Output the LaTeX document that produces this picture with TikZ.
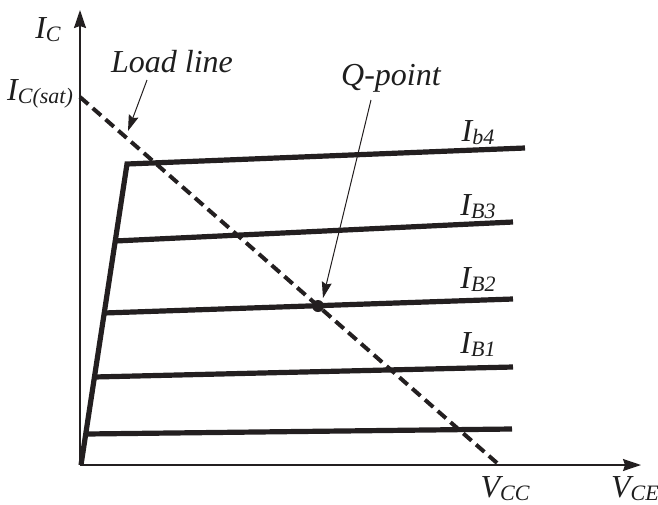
\documentclass[tikz,border=0pt]{standalone}
\usepackage{fontspec}
\setmainfont{Liberation Serif}
\usetikzlibrary{
  arrows.meta,
  calc
}
\definecolor{inkcolor}{RGB}{35, 31, 32}
\definecolor{labelcolor}{RGB}{30, 30, 30}
\newcommand{\curlbl}[2]{#1\raisebox{-0.2ex}{\fontsize{11}{13}\selectfont #2}}
\tikzset{
axisline/.style={
  line width=0.8pt,
  draw=inkcolor,
  -{Stealth[length=9pt,width=6pt,inset=1pt]}
},
curve/.style={
  line width=2.6pt,
  draw=inkcolor,
  line join=miter
},
loadline/.style={
  line width=2pt,
  draw=inkcolor,
  dash pattern=on 5.5pt off 3pt
},
pointer/.style={
  -{Stealth[length=8pt,width=5pt,inset=1pt]},
  line width=0.5pt,
  draw=inkcolor
},
curvelabel/.style={
  font=\itshape\fontsize{16}{18}\selectfont,
  text=labelcolor,
  inner sep=0pt
},
qdot/.style={
  circle,
  fill=inkcolor,
  inner sep=0pt,
  minimum size=6pt
}
}

\begin{document}
\begin{tikzpicture}[x=0.5pt, y=-0.5pt]
  \useasboundingbox (0,0) rectangle (658,504);

  % axes
  \coordinate (O) at (80,465);
  \coordinate (ytip) at (80,10);
  \coordinate (xtip) at (641,465);
  \draw[axisline] (O) -- (ytip);
  \draw[axisline] (O) -- (xtip);

  % saturation edge and base current curves
  \coordinate (base) at (81,465);
  \coordinate (knee) at (127,164);
  \coordinate (b4end) at (525,148);
  \draw[curve] (base) -- (knee) -- (b4end);
  \foreach \sx/\sy/\ex/\ey/\name in {115/241/513/222/b3, 104/313/513/299/b2, 94/377/513/367/b1, 86/434/512/429/b0}{
    \coordinate (\name start) at (\sx,\sy);
    \coordinate (\name end) at (\ex,\ey);
    \draw[curve] (\name start) -- (\name end);
  }

  % load line
  \coordinate (icsat) at (80,97);
  \coordinate (vcc) at (497,463);
  \draw[loadline] (icsat) -- (vcc);
  \node[qdot] (qpt) at (318,306) {};

  % labels
  \node[curvelabel] (iclbl) at (48,30) {\curlbl{I}{C}};
  \node[curvelabel] (icsatlbl) at (40,94) {\curlbl{I}{C(sat)}};
  \node[curvelabel] (loadlbl) at (172,62) {Load line};
  \node[curvelabel] (qlbl) at (391,78) {Q-point};
  \node[curvelabel] (ib4lbl) at (478,133) {\curlbl{I}{b4}};
  \node[curvelabel] (ib3lbl) at (478,207) {\curlbl{I}{B3}};
  \node[curvelabel] (ib2lbl) at (478,280) {\curlbl{I}{B2}};
  \node[curvelabel] (ib1lbl) at (478,345) {\curlbl{I}{B1}};
  \node[curvelabel] (vcclbl) at (505,489) {\curlbl{V}{CC}};
  \node[curvelabel] (vcelbl) at (635,489) {\curlbl{V}{CE}};

  % pointers
  \coordinate (lltail) at (147,80);
  \coordinate (llhead) at (128,131);
  \coordinate (qtail) at (371,100);
  \coordinate (qhead) at (323,298);
  \draw[pointer] (lltail) -- (llhead);
  \draw[pointer] (qtail) -- (qhead);
\end{tikzpicture}
\end{document}
